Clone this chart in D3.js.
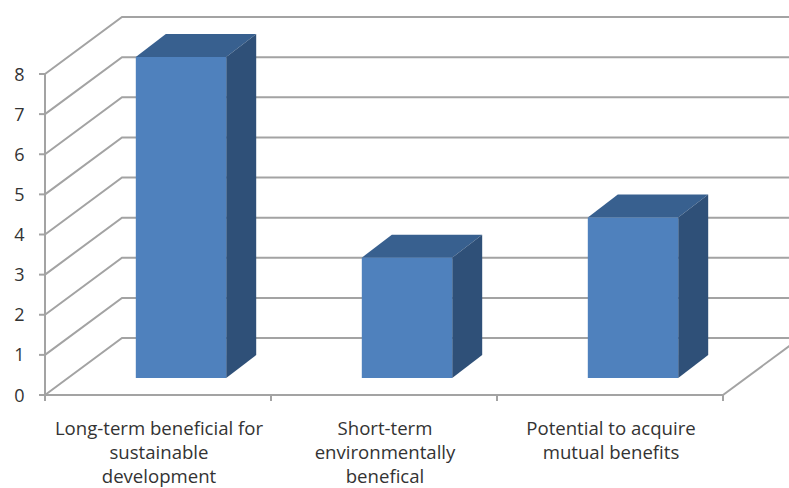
<!DOCTYPE html>
<html>
<head>
<meta charset="utf-8">
<script src="https://cdn.jsdelivr.net/npm/d3@7/dist/d3.min.js"></script>
<style>
html, body { margin: 0; padding: 0; background: #fff; }
svg { display: block; }
text { font-family: "Open Sans", sans-serif; fill: #333; }
</style>
</head>
<body>
<script>
const categories = [
  ["Long-term beneficial for", "sustainable", "development"],
  ["Short-term", "environmentally", "benefical"],
  ["Potential to acquire", "mutual benefits"]
];
const values = [8, 3, 4];
const tickValues = [0, 1, 2, 3, 4, 5, 6, 7, 8];

const width = 789, height = 488;
const frame = { left: 45, right: 723, top: 74, bottom: 395 };
// Oblique offset of the back wall relative to the front plane, and of the bars' depth
const depth = { dx: 77, dy: -57 };
const barDepth = { dx: 30, dy: -23 };
const barInset = { dx: 23, dy: -17 };

const gridColor = "#a3a3a3";

const svg = d3.select("body").append("svg")
  .attr("width", width).attr("height", height);

const y = d3.scaleLinear().domain([0, 8]).range([frame.bottom, frame.top]);
const x = d3.scaleBand().domain(d3.range(categories.length))
  .range([frame.left, frame.right])
  .paddingInner(0.6).paddingOuter(0.3);
const step = x.step();

// Side wall and back wall gridlines
const grid = svg.append("g").attr("fill", "none").attr("stroke", gridColor).attr("stroke-width", 2);
grid.selectAll("path").data(tickValues).join("path")
  .attr("d", d => {
    const p = d3.path();
    p.moveTo(frame.left, y(d));
    p.lineTo(frame.left + depth.dx, y(d) + depth.dy);
    p.lineTo(width + 20, y(d) + depth.dy);
    return p.toString();
  });

// Right edge of the floor
grid.append("line")
  .attr("x1", frame.right).attr("y1", y(0))
  .attr("x2", frame.right + depth.dx).attr("y2", y(0) + depth.dy);

// Axes
const axes = svg.append("g").attr("stroke", gridColor).attr("stroke-width", 2).attr("fill", "none");
axes.append("line").attr("x1", frame.left).attr("x2", frame.left)
  .attr("y1", y(8) - 1).attr("y2", y(0) + 6);
axes.append("line").attr("x1", frame.left - 6).attr("x2", frame.right)
  .attr("y1", y(0)).attr("y2", y(0));
axes.selectAll(".ytick").data(tickValues).join("line").attr("class", "ytick")
  .attr("x1", frame.left - 6).attr("x2", frame.left)
  .attr("y1", d => y(d)).attr("y2", d => y(d));
axes.selectAll(".xtick").data(d3.range(categories.length + 1)).join("line").attr("class", "xtick")
  .attr("x1", i => frame.left + i * step).attr("x2", i => frame.left + i * step)
  .attr("y1", y(0)).attr("y2", y(0) + 6);

// Bars: front face, top face, side face
const bars = svg.append("g").selectAll("g").data(values).join("g")
  .attr("transform", `translate(${barInset.dx},${barInset.dy})`);

bars.append("path").attr("fill", "#38608f")
  .attr("d", (d, i) => {
    const l = x(i), r = l + x.bandwidth(), t = y(d);
    return `M${l},${t}L${l + barDepth.dx},${t + barDepth.dy}L${r + barDepth.dx},${t + barDepth.dy}L${r},${t}Z`;
  });
bars.append("path").attr("fill", "#2f5078")
  .attr("d", (d, i) => {
    const r = x(i) + x.bandwidth(), t = y(d), b = y(0);
    return `M${r},${t}L${r + barDepth.dx},${t + barDepth.dy}L${r + barDepth.dx},${b + barDepth.dy}L${r},${b}Z`;
  });
bars.append("rect").attr("fill", "#4f81bd")
  .attr("x", (d, i) => x(i)).attr("width", x.bandwidth())
  .attr("y", d => y(d)).attr("height", d => y(0) - y(d));

// Value axis labels
svg.append("g").selectAll("text").data(tickValues).join("text")
  .attr("x", 24.5).attr("y", d => y(d) + 6.5)
  .attr("text-anchor", "end").attr("font-size", 18)
  .text(d => d);

// Category labels
const labels = svg.append("g").selectAll("text").data(categories).join("text")
  .attr("text-anchor", "middle").attr("font-size", 18.6);
labels.selectAll("tspan").data((d, i) => d.map((t, k) => ({ t, k, i }))).join("tspan")
  .attr("x", d => frame.left + (d.i + 0.5) * step + 1)
  .attr("y", d => 434.5 + d.k * 24)
  .text(d => d.t);
</script>
</body>
</html>
